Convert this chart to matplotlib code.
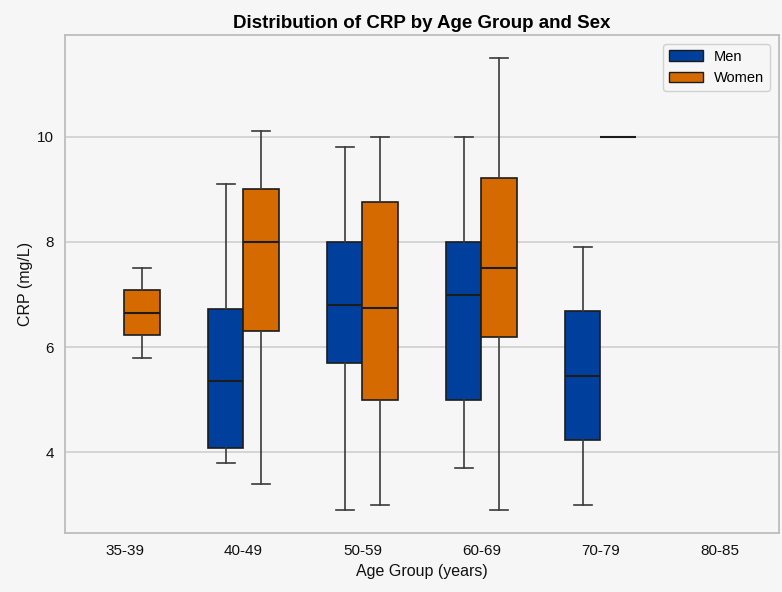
import numpy as np
import matplotlib
matplotlib.use('Agg')
import matplotlib.pyplot as plt
from matplotlib.patches import Patch

plt.rcParams['font.family'] = ['Liberation Sans', 'DejaVu Sans']

groups = ['35-39', '40-49', '50-59', '60-69', '70-79', '80-85']

# five-number summaries: whisker low, q1, median, q3, whisker high
# None = no data for that group
men_stats = [
    None,
    [3.8, 4.08, 5.35, 6.72, 9.1],
    [2.9, 5.7, 6.8, 8.0, 9.8],
    [3.7, 5.0, 7.0, 8.0, 10.0],
    [3.0, 4.23, 5.46, 6.68, 7.9],
    None,
]
women_stats = [
    [5.8, 6.23, 6.65, 7.08, 7.5],
    [3.4, 6.3, 8.0, 9.0, 10.1],
    [3.0, 5.0, 6.75, 8.75, 10.0],
    [2.9, 6.2, 7.5, 9.22, 11.5],
    [10.0, 10.0, 10.0, 10.0, 10.0],
    None,
]

men_color = '#00409c'
women_color = '#d56b00'
edge = '#1c1c1c'
bg = '#f6f6f6'


def to_bxp(rows):
    out = []
    for i, r in enumerate(rows):
        if r is None:
            continue
        out.append((i, dict(whislo=r[0], q1=r[1], med=r[2], q3=r[3], whishi=r[4], fliers=[])))
    return out


fig = plt.figure(figsize=(7.82, 5.92), dpi=100, facecolor=bg)
ax = fig.add_axes([0.0831, 0.0997, 0.913, 0.841], facecolor=bg)

ax.grid(axis='y', color='#cfcfcf', linewidth=1.2, zorder=0)
ax.set_axisbelow(True)

for rows, off, col in [(men_stats, -0.15, men_color), (women_stats, 0.15, women_color)]:
    items = to_bxp(rows)
    pos = [i + off for i, _ in items]
    ax.bxp([s for _, s in items], positions=pos, widths=0.3, patch_artist=True,
           showfliers=False, manage_ticks=False,
           boxprops=dict(facecolor=col, edgecolor=edge, linewidth=1.2),
           medianprops=dict(color=edge, linewidth=1.5),
           whiskerprops=dict(color='#3a3a3a', linewidth=1.2),
           capprops=dict(color='#3a3a3a', linewidth=1.2))

ax.set_xticks(range(len(groups)))
ax.set_xticklabels(groups)
ax.set_xlim(-0.5, len(groups) - 0.5)
ax.set_yticks([4, 6, 8, 10])
ax.tick_params(length=0, labelsize=11, pad=8, colors='#111111')

for s in ax.spines.values():
    s.set_color('#bdbdbd')
    s.set_linewidth(1.3)

ax.set_title('Distribution of CRP by Age Group and Sex', fontsize=13.5,
             fontweight='bold', pad=5)
ax.set_xlabel('Age Group (years)', fontsize=11.5, labelpad=4, color='#111111')
ax.set_ylabel('CRP (mg/L)', fontsize=11.5, labelpad=3, color='#111111')

handles = [Patch(facecolor=men_color, edgecolor=edge, label='Men'),
           Patch(facecolor=women_color, edgecolor=edge, label='Women')]
leg = ax.legend(handles=handles, loc='upper right', fontsize=10.5,
                frameon=True, fancybox=True, edgecolor='#c8c8c8', facecolor=bg,
                borderaxespad=0.6, handlelength=2.3)
leg.get_frame().set_linewidth(1.0)

fig.savefig('out.png', dpi=100, facecolor=bg)
